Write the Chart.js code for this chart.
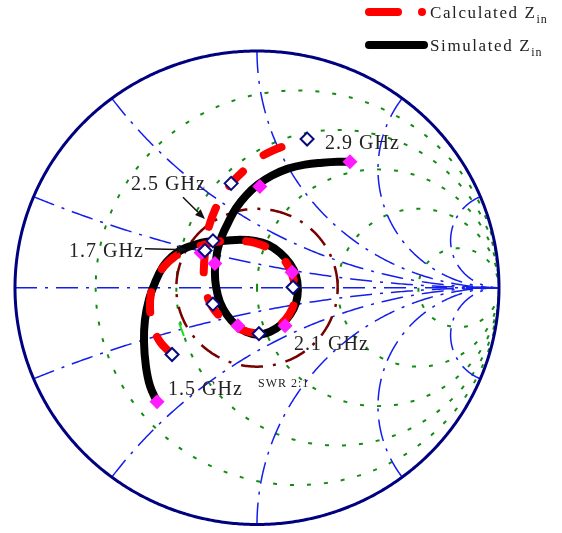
<!DOCTYPE html>
<html><head><meta charset="utf-8">
<script src="https://cdn.jsdelivr.net/npm/chart.js@4/dist/chart.umd.min.js"></script>
<style>
html,body{margin:0;padding:0;background:#fff;}
#wrap{position:relative;width:562px;height:533px;overflow:hidden;background:#fff;}
#c{position:absolute;left:0;top:0;}
.lbl{position:absolute;font-family:"Liberation Serif","DejaVu Serif",serif;font-size:20px;line-height:20px;color:#222;white-space:nowrap;letter-spacing:1px;}
.small{font-size:12px;line-height:12px;letter-spacing:1px;}
.leg{font-size:17px;line-height:17px;letter-spacing:1.6px;}
.leg sub{font-size:12px;vertical-align:-5px;letter-spacing:1px;}
</style></head>
<body>
<div id="wrap">
<canvas id="c" width="562" height="533"></canvas>
<div class="lbl leg" style="left:430px;top:4px;">Calculated Z<sub>in</sub></div>
<div class="lbl leg" style="left:430px;top:37px;">Simulated Z<sub>in</sub></div>
<div class="lbl" style="left:325px;top:132px;">2.9 GHz</div>
<div class="lbl" style="left:131px;top:173px;">2.5 GHz</div>
<div class="lbl" style="left:69px;top:240px;">1.7 GHz</div>
<div class="lbl" style="left:294px;top:333px;">2.1 GHz</div>
<div class="lbl" style="left:168px;top:378px;">1.5 GHz</div>
<div class="lbl small" style="left:258px;top:377px;">SWR 2:1</div>
</div>
<script>
// ---- Smith chart grid values ----
const resistanceCircles = [0.2, 0.5, 1, 2, 5];
const reactanceArcs = [0.2, 0.5, 1, 2, 5, -0.2, -0.5, -1, -2, -5];
const swrValue = 2; // SWR 2:1 circle

// ---- Simulated Zin (reflection coefficient, real / imaginary) ----
const simulatedRe = [-0.413,-0.442,-0.459,-0.467,-0.463,-0.446,-0.421,-0.388,-0.351,-0.310,-0.256,-0.207,-0.132,-0.070,-0.008,0.045,0.095,0.136,0.161,0.169,0.161,0.136,0.099,0.054,0.004,-0.045,-0.087,-0.124,-0.153,-0.169,-0.174,-0.169,-0.161,-0.145,-0.120,-0.087,-0.045,0.004,0.062,0.128,0.198,0.269,0.335,0.384];
const simulatedIm = [-0.482,-0.415,-0.332,-0.228,-0.136,-0.048,0.023,0.090,0.132,0.161,0.182,0.194,0.198,0.203,0.198,0.182,0.148,0.102,0.052,-0.006,-0.065,-0.115,-0.157,-0.186,-0.198,-0.186,-0.157,-0.115,-0.061,0.002,0.065,0.119,0.169,0.219,0.273,0.336,0.390,0.436,0.474,0.503,0.520,0.528,0.532,0.532];
const simMarkersRe = [-0.413,-0.231,-0.174,-0.079,0.116,0.145,0.012,0.384];
const simMarkersIm = [-0.482,0.148,0.102,-0.161,-0.161,0.065,0.428,0.532];

// ---- Calculated Zin ----
const calculatedRe = [-0.360,-0.401,-0.430,-0.442,-0.438,-0.417,-0.384,-0.339,-0.285,-0.236,-0.186,-0.132,-0.070,-0.008,0.045,0.095,0.132,0.153,0.157,0.145,0.116,0.074,0.021,-0.037,-0.091,-0.140,-0.182,-0.207,-0.219,-0.219,-0.215,-0.211,-0.198,-0.174,-0.140,-0.099,-0.050,0.004,0.062,0.124];
const calculatedIm = [-0.273,-0.228,-0.165,-0.090,-0.023,0.040,0.090,0.132,0.161,0.177,0.190,0.198,0.198,0.190,0.169,0.136,0.086,0.027,-0.031,-0.090,-0.136,-0.169,-0.190,-0.186,-0.165,-0.132,-0.086,-0.031,0.031,0.094,0.148,0.203,0.261,0.328,0.390,0.449,0.499,0.545,0.578,0.603];
const calcMarkersRe = [-0.351,-0.182,0.008,0.149,-0.215,-0.182,-0.107,0.207];
const calcMarkersIm = [-0.282,-0.069,-0.194,0.002,0.157,0.198,0.441,0.628];

// small green trace mark
const greenMarkRe = [-0.322,-0.302];
const greenMarkIm = [-0.148,-0.203];

// annotation arrows [fromRe, fromIm, toRe, toIm]
const arrow25 = [-0.306, 0.382, -0.215, 0.290];
const arrow17 = [-0.463, 0.165, -0.290, 0.161];

const zip = (a, b) => a.map((v, i) => ({x: v, y: b[i]}));

function strokePts(ctx, pts, color, width, dash) {
  ctx.save();
  ctx.beginPath();
  pts.forEach((p, i) => i ? ctx.lineTo(p[0], p[1]) : ctx.moveTo(p[0], p[1]));
  ctx.strokeStyle = color; ctx.lineWidth = width; ctx.setLineDash(dash || []);
  ctx.lineCap = 'butt';
  ctx.stroke();
  ctx.restore();
}

const smithGrid = {
  id: 'smithGrid',
  beforeDatasetsDraw(chart) {
    const ctx = chart.ctx, xs = chart.scales.x, ys = chart.scales.y;
    const P = (u, v) => [xs.getPixelForValue(u), ys.getPixelForValue(v)];
    // resistance circles (green dotted)
    resistanceCircles.forEach(r => {
      const cx = r / (1 + r), R = 1 / (1 + r), pts = [];
      for (let i = 0; i <= 360; i++) { const t = Math.PI + i * Math.PI * 2 / 360; pts.push(P(cx + R * Math.cos(t), R * Math.sin(t))); }
      strokePts(ctx, pts, 'rgb(20,140,20)', 2, [4, 13]);
    });
    // reactance arcs (blue dash-dot)
    reactanceArcs.forEach(x => {
      const a = Math.abs(x), s = Math.sign(x), R = 1 / a;
      const ub = (a * a - 1) / (a * a + 1), vb = 2 * a / (a * a + 1);
      let tb = Math.atan2(vb - R, ub - 1); if (tb < 0) tb += 2 * Math.PI;
      const te = 1.5 * Math.PI, pts = [];
      for (let i = 0; i <= 200; i++) { const t = tb + (te - tb) * i / 200; pts.push(P(1 + R * Math.cos(t), s * (R + R * Math.sin(t)))); }
      strokePts(ctx, pts, 'rgb(20,30,235)', 1.5, [22, 8, 3, 8]);
    });
    strokePts(ctx, [P(-1, 0), P(1, 0)], 'rgb(20,30,235)', 1.5, [22, 8, 3, 8]);
    // SWR circle
    const g = (swrValue - 1) / (swrValue + 1), sp = [];
    for (let i = 0; i <= 360; i++) { const t = i * Math.PI * 2 / 360; sp.push(P(g * Math.cos(t), g * Math.sin(t))); }
    strokePts(ctx, sp, 'rgb(120,0,0)', 2.5, [22, 10, 3, 10]);
    // outer circle
    const op = [];
    for (let i = 0; i <= 720; i++) { const t = i * Math.PI * 2 / 720; op.push(P(Math.cos(t), Math.sin(t))); }
    strokePts(ctx, op, 'rgb(0,0,128)', 3, []);
  },
  afterDatasetsDraw(chart) {
    const ctx = chart.ctx, xs = chart.scales.x, ys = chart.scales.y;
    const P = (u, v) => [xs.getPixelForValue(u), ys.getPixelForValue(v)];
    [arrow25, arrow17].forEach(a => {
      const p0 = P(a[0], a[1]), p1 = P(a[2], a[3]);
      const ang = Math.atan2(p1[1] - p0[1], p1[0] - p0[0]);
      const hl = 10, hw = 4;
      const bx = p1[0] - hl * Math.cos(ang), by = p1[1] - hl * Math.sin(ang);
      strokePts(ctx, [p0, [bx, by]], '#111', 1.5, []);
      ctx.save(); ctx.fillStyle = '#111'; ctx.beginPath();
      ctx.moveTo(p1[0], p1[1]);
      ctx.lineTo(bx + hw * Math.sin(ang), by - hw * Math.cos(ang));
      ctx.lineTo(bx - hw * Math.sin(ang), by + hw * Math.cos(ang));
      ctx.closePath(); ctx.fill(); ctx.restore();
    });
    // legend swatches
    ctx.save();
    ctx.lineCap = 'round'; ctx.lineWidth = 8;
    ctx.strokeStyle = '#ff0000';
    ctx.beginPath(); ctx.moveTo(369, 12); ctx.lineTo(398, 12); ctx.stroke();
    ctx.fillStyle = '#ff0000'; ctx.beginPath(); ctx.arc(422, 12, 4, 0, Math.PI * 2); ctx.fill();
    ctx.strokeStyle = '#000';
    ctx.beginPath(); ctx.moveTo(369, 45); ctx.lineTo(424, 45); ctx.stroke();
    ctx.restore();
  }
};

new Chart(document.getElementById('c'), {
  type: 'scatter',
  data: {
    datasets: [
      {label: 'Calculated markers', data: zip(calcMarkersRe, calcMarkersIm), showLine: false,
       pointStyle: 'rectRot', pointRadius: 6.5, pointBorderWidth: 2, pointBorderColor: '#0a0a80', pointBackgroundColor: '#ffffff', order: 0},
      {label: 'Simulated markers', data: zip(simMarkersRe, simMarkersIm), showLine: false,
       pointStyle: 'rectRot', pointRadius: 7.5, pointBorderWidth: 0, pointBackgroundColor: '#ff1aff', order: 1},
      {label: 'Calculated Zin', data: zip(calculatedRe, calculatedIm), showLine: true, pointRadius: 0,
       borderColor: '#ff0000', borderWidth: 8, borderDash: [20, 26], borderCapStyle: 'round', tension: 0.4, order: 2},
      {label: 'Simulated Zin', data: zip(simulatedRe, simulatedIm), showLine: true, pointRadius: 0,
       borderColor: '#000000', borderWidth: 8, borderCapStyle: 'butt', tension: 0.4, order: 3},
      {label: 'mark', data: zip(greenMarkRe, greenMarkIm), showLine: true, pointRadius: 0,
       borderColor: '#22dd22', borderWidth: 2, order: 4}
    ]
  },
  options: {
    animation: false, responsive: false, devicePixelRatio: 1,
    layout: {padding: {left: 15, right: 63, top: 51, bottom: 3}},
    plugins: {legend: {display: false}, tooltip: {enabled: false}},
    scales: {
      x: {type: 'linear', min: -1, max: 1, display: false},
      y: {type: 'linear', min: -1, max: 1, display: false}
    }
  },
  plugins: [smithGrid]
});
</script>
</body></html>
